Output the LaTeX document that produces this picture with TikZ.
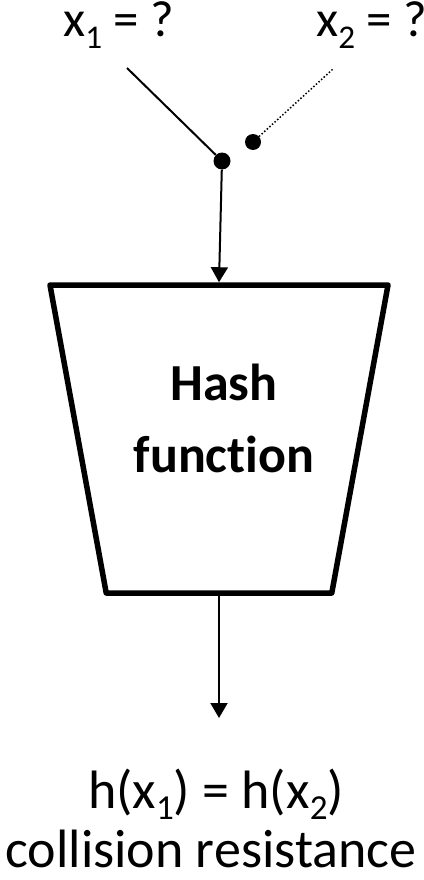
\documentclass[tikz,border=0pt]{standalone}
\usepackage{fontspec}
\setmainfont{Carlito}[Ligatures=NoCommon]
\usetikzlibrary{arrows.meta,shapes.geometric}
\newcommand{\lowsub}[1]{\raisebox{-0.22em}[0pt][0pt]{\scalebox{0.65}{#1}}}

\begin{document}
\begin{tikzpicture}[x=1pt,y=-1pt,>={Triangle[width=17pt,length=15pt]},
	lbl/.style={inner sep=0pt,font=\fontsize{54}{60}\selectfont},
	inlbl/.style={lbl,font=\fontsize{51}{56}\selectfont,anchor=base west},
	dot/.style={circle,fill,inner sep=0pt,minimum size=17pt},
	wire/.style={line width=2pt},
	hashbox/.style={trapezium,draw,line width=5.5pt,line join=round,trapezium angle=76,
		shape border rotate=180,trapezium stretches=true,minimum width=338pt,minimum height=308pt}]
	\useasboundingbox (0,0) rectangle (423,880);
	% inputs
	\node[inlbl] (x1) at (63,37) {x\lowsub{1} = ?};
	\node[inlbl] (x2) at (316,37) {x\lowsub{2} = ?};
	\coordinate (x1end) at (127,68);
	\coordinate (x2end) at (333,69);
	\node[dot] (d1) at (222,161) {};
	\node[dot,minimum size=16pt] (d2) at (253,142) {};
	% hash box
	\node[hashbox] (hash) at (219,439) {};
	\node[inner sep=0pt,align=center,font=\bfseries\fontsize{52}{72}\selectfont] (hname) at (224,418) {Hash\\function};
	\coordinate (out) at (219,718);
	% output
	\node[lbl,anchor=base] (hx) at (216,808) {h(x\lowsub{1}) = h(x\lowsub{2})};
	\node[lbl,anchor=base] (cr) at (211,867) {collision resistance};
	\path[wire]
	(x1end)	edge (d1)
	(d2)	edge [dotted,line width=1.5pt] (x2end)
	(d1)	edge [->] (hash.north)
	(hash.south)	edge [->] (out)
	;
\end{tikzpicture}
\end{document}
